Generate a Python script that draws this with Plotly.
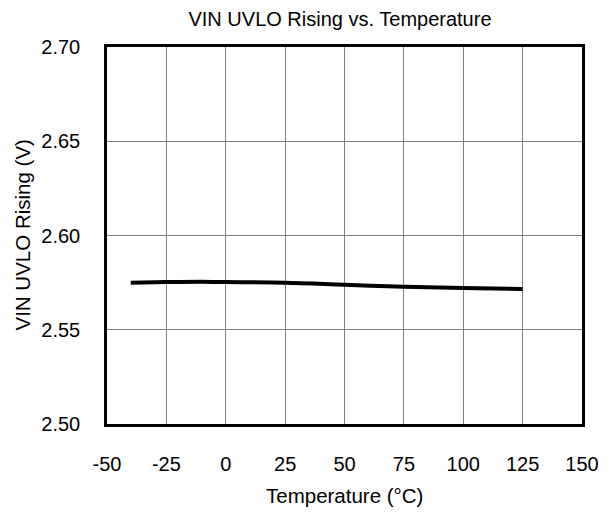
import plotly.graph_objects as go

temperature = [-40, -25, -10, 0, 25, 50, 75, 100, 125]
uvlo_rising = [2.5750, 2.5753, 2.5754, 2.5753, 2.5750, 2.5739, 2.5728, 2.5721, 2.5716]

x_ticks = [-50, -25, 0, 25, 50, 75, 100, 125, 150]
y_ticks = [2.50, 2.55, 2.60, 2.65, 2.70]

font = "Liberation Sans, Arial, sans-serif"

fig = go.Figure()
fig.add_trace(go.Scatter(
    x=temperature, y=uvlo_rising, mode="lines",
    line=dict(color="black", width=4, shape="spline"),
    showlegend=False,
))

fig.update_layout(
    width=610, height=512,
    margin=dict(l=99, r=36, t=39, b=96),
    paper_bgcolor="white", plot_bgcolor="white",
    font=dict(family=font, size=20, color="black"),
    title=dict(text="VIN UVLO Rising vs. Temperature", x=(340 - 8) / 610, xanchor="center",
               y=1 - 11 / 512, yanchor="middle", font=dict(size=20, family=font)),
    xaxis=dict(
        range=[-50, 150], tickvals=x_ticks, ticktext=[str(v) for v in x_ticks],
        showgrid=True, gridcolor="#808080", gridwidth=1,
        showline=True, linecolor="black", linewidth=2.5, mirror=True,
        ticks="outside", ticklen=20, tickcolor="rgba(0,0,0,0)", zeroline=False,
        tickfont=dict(size=20),
    ),
    yaxis=dict(
        range=[2.50, 2.70], tickvals=y_ticks, ticktext=[f"{v:.2f}" for v in y_ticks],
        showgrid=True, gridcolor="#808080", gridwidth=1,
        showline=True, linecolor="black", linewidth=2.5, mirror=True,
        ticks="outside", ticklen=20, tickcolor="rgba(0,0,0,0)", zeroline=False,
        tickfont=dict(size=20),
    ),
    annotations=[
        dict(text="Temperature (°C)", xref="paper", yref="paper", x=0.5, y=0,
             xanchor="center", yanchor="middle", yshift=-71, showarrow=False,
             font=dict(size=20.5, family=font)),
        dict(text="VIN UVLO Rising (V)", xref="paper", yref="paper", x=0, y=0.5,
             xanchor="center", yanchor="middle", xshift=-85, yshift=0, textangle=-90,
             showarrow=False, font=dict(size=20.5, family=font)),
    ],
)

fig.write_html("out.html")
